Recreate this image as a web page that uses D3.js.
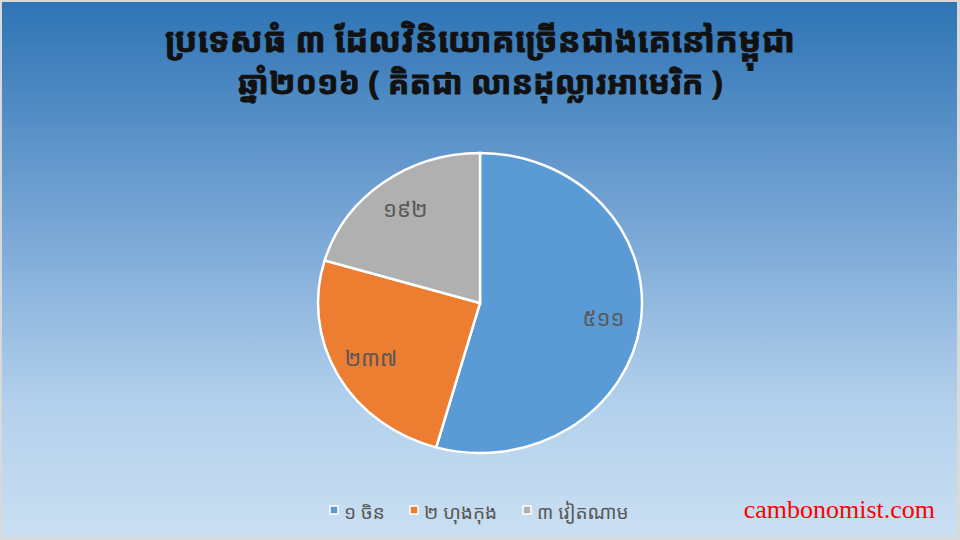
<!DOCTYPE html>
<html>
<head>
<meta charset="utf-8">
<script src="https://cdn.jsdelivr.net/npm/d3@7"></script>
<style>
  html, body { margin: 0; padding: 0; background: #d9d9d9; }
  svg { display: block; }
</style>
</head>
<body>
<svg id="chart" width="960" height="540"></svg>
<script>
// chart data
const titleLines = ["ប្រទេសធំ ៣ ដែលវិនិយោគច្រើនជាងគេនៅកម្ពុជា", "ឆ្នាំ២០១៦ ( គិតជា លានដុល្លារអាមេរិក )"];
const countries = ["១ ចិន", "២ ហុងកុង", "៣ វៀតណាម"];
const investValues = [511, 237, 192];
const valueLabels = ["៥១១", "២៣៧", "១៩២"];
const sliceColors = ["#5b9bd5", "#ed7d31", "#b0b0b0"];

const W = 960, H = 540;
const khmerFont = "'Khmer OS Muol Light', 'Khmer OS Bokor', 'Khmer OS', 'Noto Sans Khmer', 'Noto Serif Khmer', sans-serif";

const svg = d3.select("#chart");

// background gradient like the office chart area
const defs = svg.append("defs");
const grad = defs.append("linearGradient")
    .attr("id", "bg").attr("x1", 0).attr("y1", 0).attr("x2", 0).attr("y2", 1);
grad.append("stop").attr("offset", "0").attr("stop-color", "#2e74b5");
grad.append("stop").attr("offset", "0.45").attr("stop-color", "#7eaad8");
grad.append("stop").attr("offset", "0.75").attr("stop-color", "#b2d0ec");
grad.append("stop").attr("offset", "1").attr("stop-color", "#cadff2");

svg.append("rect")
    .attr("x", 2).attr("y", 2)
    .attr("width", W - 5).attr("height", H - 5)
    .attr("fill", "url(#bg)");

// title (heavier than the fallback font, so add a stroke)
svg.append("g").selectAll("text")
    .data(titleLines)
    .join("text")
    .attr("x", W / 2)
    .attr("y", (d, i) => 52 + i * 42)
    .attr("text-anchor", "middle")
    .attr("font-family", khmerFont)
    .attr("font-weight", "bold")
    .attr("font-size", (d, i) => i === 0 ? 34 : 32)
    .attr("fill", "#111")
    .attr("stroke", "#111")
    .attr("stroke-width", 0.9)
    .text(d => d);

// pie - the original is a bit stretched sideways, so scale x
const cx = 480, cy = 303, R = 150, stretchX = 162 / 150;

const pie = d3.pie().sort(null).value(d => d);
const arcs = pie(investValues);
const arc = d3.arc().innerRadius(0).outerRadius(R);
const labelArc = d3.arc().innerRadius(R * 0.77).outerRadius(R * 0.77);

const pieG = svg.append("g")
    .attr("transform", "translate(" + cx + "," + cy + ") scale(" + stretchX + ",1)");

pieG.selectAll("path")
    .data(arcs)
    .join("path")
    .attr("d", arc)
    .attr("fill", (d, i) => sliceColors[i])
    .attr("stroke", "#fff")
    .attr("stroke-width", 2.5)
    .attr("vector-effect", "non-scaling-stroke");

svg.append("g").selectAll("text")
    .data(arcs)
    .join("text")
    .attr("x", d => cx + labelArc.centroid(d)[0] * stretchX)
    .attr("y", d => cy + labelArc.centroid(d)[1] + 7)
    .attr("text-anchor", "middle")
    .attr("font-family", khmerFont)
    .attr("font-size", 22)
    .attr("fill", "#595959")
    .text((d, i) => valueLabels[i]);

// legend
const legendX = [330, 410, 523];
const legend = svg.append("g").selectAll("g")
    .data(countries)
    .join("g")
    .attr("transform", (d, i) => "translate(" + legendX[i] + ",513)");

legend.append("rect")
    .attr("x", 0).attr("y", -7)
    .attr("width", 8).attr("height", 8)
    .attr("fill", (d, i) => sliceColors[i])
    .attr("stroke", "#fff")
    .attr("stroke-width", 1.5);

legend.append("text")
    .attr("x", 14).attr("y", 6)
    .attr("font-family", khmerFont)
    .attr("font-size", 19)
    .attr("fill", "#595959")
    .text(d => d);

// watermark
svg.append("text")
    .attr("x", 935).attr("y", 518)
    .attr("text-anchor", "end")
    .attr("font-family", "'Liberation Serif', 'DejaVu Serif', serif")
    .attr("font-size", 26)
    .attr("fill", "#ff0000")
    .text("cambonomist.com");
</script>
</body>
</html>
